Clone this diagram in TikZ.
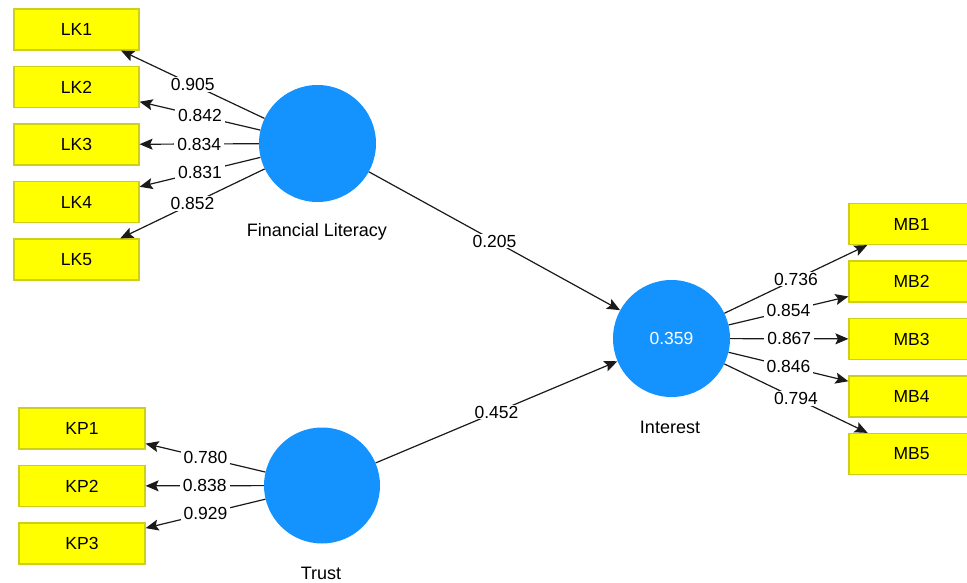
\documentclass[tikz,border=0pt]{standalone}
\usepackage{fontspec}
\setmainfont{Liberation Sans}
\usetikzlibrary{arrows.meta}
\definecolor{boxyellow}{HTML}{FFFF00}
\definecolor{boxedge}{HTML}{CFCF1A}
\definecolor{latblue}{HTML}{1493FF}
\definecolor{linegray}{HTML}{1A1A1A}
\tikzset{
  ind/.style={rectangle, fill=boxyellow, draw=boxedge, line width=1.2pt,
    minimum width=125pt, minimum height=41pt, inner sep=0pt,
    font=\fontsize{17.5}{20}\selectfont},
  lat/.style={circle, fill=latblue, draw=none, minimum size=117pt, inner sep=0pt,
    font=\fontsize{17.5}{20}\selectfont, text=white},
  lbl/.style={fill=white, inner xsep=3pt, inner ysep=1pt, text=black,
    font=\fontsize{17.5}{20}\selectfont},
  cname/.style={inner sep=0pt, text=black, font=\fontsize{18}{20}\selectfont},
  arr/.style={draw=linegray, line width=1.2pt,
    -{Stealth[inset=2.5pt, length=13pt, width=11pt]}}
}
\begin{document}
\begin{tikzpicture}[x=1pt, y=-1pt]
\useasboundingbox (0,0) rectangle (967,583);
\clip (0,0) rectangle (967,583);
\fill[white] (0,0) rectangle (967,583);

% indicator boxes
\node[ind] (LK1) at (76.5,29.5) {LK1};
\node[ind] (LK2) at (76.5,87) {LK2};
\node[ind] (LK3) at (76.5,144.5) {LK3};
\node[ind] (LK4) at (76.5,202) {LK4};
\node[ind] (LK5) at (76.5,259.5) {LK5};

\node[ind, minimum width=126pt] (KP1) at (82,428.5) {KP1};
\node[ind, minimum width=126pt] (KP2) at (82,486) {KP2};
\node[ind, minimum width=126pt] (KP3) at (82,543.5) {KP3};

\node[ind] (MB1) at (911.5,224) {MB1};
\node[ind] (MB2) at (911.5,281.5) {MB2};
\node[ind] (MB3) at (911.5,339) {MB3};
\node[ind] (MB4) at (911.5,396.5) {MB4};
\node[ind] (MB5) at (911.5,454) {MB5};

% latent variables
\node[lat] (FL) at (317.5,143.5) {};
\node[lat] (IN) at (671.5,338.5) {0.359};
\node[lat, minimum size=116pt] (TR) at (322,485.5) {};

\node[cname] (FLt) at (317,232) {Financial Literacy};
\node[cname] (INt) at (670,427) {Interest};
\node[cname] (TRt) at (321,573) {Trust};

% outer loadings
\draw[arr] (FL) -- node[lbl] {0.905} (LK1);
\draw[arr] (FL) -- node[lbl] {0.842} (LK2);
\draw[arr] (FL) -- node[lbl] {0.834} (LK3);
\draw[arr] (FL) -- node[lbl] {0.831} (LK4);
\draw[arr] (FL) -- node[lbl] {0.852} (LK5);

\draw[arr] (TR) -- node[lbl] {0.780} (KP1);
\draw[arr] (TR) -- node[lbl] {0.838} (KP2);
\draw[arr] (TR) -- node[lbl] {0.929} (KP3);

\draw[arr] (IN) -- node[lbl] {0.736} (MB1);
\draw[arr] (IN) -- node[lbl] {0.854} (MB2);
\draw[arr] (IN) -- node[lbl] {0.867} (MB3);
\draw[arr] (IN) -- node[lbl] {0.846} (MB4);
\draw[arr] (IN) -- node[lbl] {0.794} (MB5);

% path coefficients
\draw[arr] (FL) -- node[lbl] {0.205} (IN);
\draw[arr] (TR) -- node[lbl] {0.452} (IN);
\end{tikzpicture}
\end{document}
